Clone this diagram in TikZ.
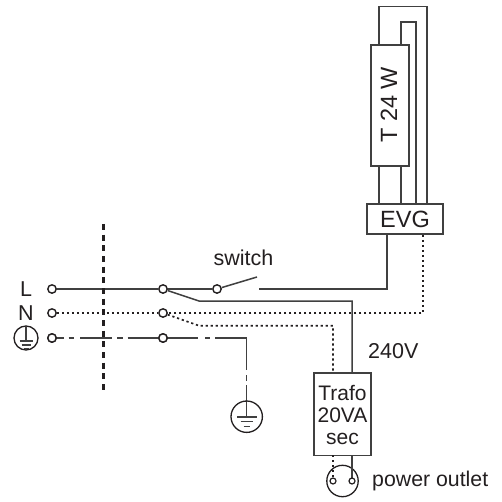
\documentclass[tikz,border=0pt]{standalone}
\usepackage{fontspec}
\setmainfont{Liberation Sans}
\definecolor{wire}{HTML}{404040}
\definecolor{ink}{HTML}{231F20}
\newcommand{\fpx}[1]{\fontsize{#1pt}{#1pt}\selectfont}
\tikzset{
  x=1pt,y=-1pt,
  every path/.style={line join=miter},
  wirel/.style={draw=wire,line width=1.5pt},
  thin wire/.style={draw=wire,line width=1.2pt},
  dotw/.style={draw=ink,line width=1.7pt,dash pattern=on 2.2pt off 2.8pt},
  pewire/.style={draw=wire,line width=1.5pt},
  term/.style={circle,draw=ink,line width=1.4pt,fill=white,minimum size=8.4pt,inner sep=0pt},
  boxn/.style={rectangle,draw=wire,line width=1.5pt,fill=none,inner sep=0pt},
  lbl/.style={text=ink,inner sep=0pt,font=\fpx{21.5}},
  ringn/.style={circle,draw=ink,line width=1.3pt,inner sep=0pt},
  pt/.style={inner sep=0pt,minimum size=0pt}
}
\begin{document}
\begin{tikzpicture}
\useasboundingbox (0,0) rectangle (502,502);
\fill[white] (0,0) rectangle (502,502);
% boxes
\node[boxn,minimum width=38pt,minimum height=121pt] (lamp) at (390,105.5) {};
\node[boxn,minimum width=76pt,minimum height=30pt] (evg) at (405,219) {};
\node[boxn,minimum width=57pt,minimum height=82.5pt] (trafo) at (342.5,414) {};
% corner coordinates
\coordinate (oa) at (379,6.5); \coordinate (ob) at (427,6.5);
\coordinate (ia) at (401,22); \coordinate (ib) at (416,22);
% lamp wiring
\draw[wirel] (oa |- lamp.north) -- (oa) -- (ob) -- (ob |- evg.north);
\draw[wirel] (ia |- lamp.north) -- (ia) -- (ib) -- (ib |- evg.north);
\draw[wirel] (oa |- lamp.south) -- (oa |- evg.north);
\draw[wirel] (ia |- lamp.south) -- (ia |- evg.north);
% separator
\coordinate (sepT) at (103.3,224); \coordinate (sepB) at (103.3,390);
% terminals
\node[term] (L1) at (52,289) {};
\node[term] (N1) at (52,313) {};
\node[term] (E1) at (52,338) {};
\node[term] (L2) at (163,289) {};
\node[term] (N2) at (163,313) {};
\node[term] (E2) at (163,338) {};
\node[term] (S1) at (217,289) {};
% L wire
\coordinate (blade) at (257,277);
\coordinate (sw) at (259,289);
\coordinate (evgL) at (387,289);
\coordinate (bL) at (199,301);
\coordinate (cL) at (352,301);
\draw[wirel] (L1) -- (L2);
\draw[wirel] (L2) -- (S1);
\draw[wirel] (S1) -- (blade);
\draw[wirel] (evgL |- evg.south) -- (evgL) -- (sw);
\draw[wirel] (L2) -- (bL) -- (cL) -- (cL |- trafo.north);
% N wire
\coordinate (evgN) at (423,313);
\coordinate (bN) at (199,325.7);
\coordinate (cN) at (333,325.7);
\draw[dotw] (N1) -- (N2);
\draw[dotw] (evgN |- evg.south) -- (evgN) -- (N2);
\draw[dotw] (N2) -- (bN) -- (cN) -- (cN |- trafo.north);
% PE wire: dash-dot pattern, drawn piece by piece
\coordinate (pe) at (246.7,338);
\node[pt] (gnd) at (246.7,417) {};
\draw[pewire] (E1) -- (63.5,338);
\draw[pewire] (68.5,338) -- (73.5,338);
\draw[pewire] (80,338) -- (111.5,338);
\draw[pewire] (117,338) -- (122.5,338);
\draw[pewire] (127.5,338) -- (E2);
\draw[pewire] (E2) -- (198,338);
\draw[pewire] (205,338) -- (210,338);
\draw[pewire] (215,338) -- (pe) -- (246.7,370);
\draw[pewire] (246.7,375) -- (246.7,381);
\draw[pewire] (246.7,385) -- (gnd);
\draw[draw=ink,line width=2.4pt,dash pattern=on 6pt off 4.67pt] (sepT) -- (sepB);
\node[term] at (E2) {};
\node[term] at (E1) {};
% earth symbol, bottom
\node[ringn,minimum size=31.4pt] (gring) at (246.7,416.7) {};
\draw[thin wire] (237,417) -- (256.5,417);
\draw[thin wire] (240.5,421.7) -- (252.5,421.7);
\draw[thin wire] (243.7,426.7) -- (249.7,426.7);
% earth symbol, left
\node[ringn,minimum size=24pt] (lring) at (26,338) {};
\draw[thin wire] (26,327) -- (26,341);
\draw[thin wire] (19.5,341) -- (32.5,341);
\draw[thin wire] (21.5,345) -- (30.5,345);
\draw[thin wire] (23.5,348.5) -- (28.5,348.5);
% outlet
\node[ringn,minimum size=31.4pt] (outlet) at (342.5,481) {};
\draw[dotw] (333,455) -- (333,478);
\draw[wirel] (352,455) -- (352,478);
\node[term,minimum size=6pt,line width=1.2pt] (p1) at (333,481) {};
\node[term,minimum size=6pt,line width=1.2pt] (p2) at (352,481) {};
% labels
\node[lbl,rotate=90,font=\fpx{23.5}] (tl) at (389,105) {T 24 W};
\node[lbl,font=\fpx{23.5}] (evgt) at (405,219.5) {EVG};
\node[lbl,anchor=base] (swt) at (243.5,265) {switch};
\node[lbl,anchor=base west] (v) at (368,358) {240V};
\node[lbl,anchor=base] (lt) at (26,296) {L};
\node[lbl,anchor=base] (nt) at (26,320) {N};
\node[lbl,anchor=base,font=\fpx{21}] (t1) at (342.5,400) {Trafo};
\node[lbl,anchor=base,font=\fpx{21}] (t2) at (342.5,422) {20VA};
\node[lbl,anchor=base,font=\fpx{21}] (t3) at (342.5,444) {sec};
\node[lbl,anchor=base west,font=\fpx{21.3}] (po) at (372,486.5) {power outlet};
\end{tikzpicture}
\end{document}
